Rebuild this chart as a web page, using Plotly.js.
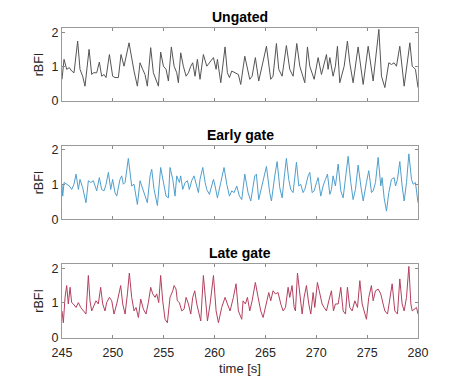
<!DOCTYPE html>
<html>
<head>
<meta charset="utf-8">
<script src="https://cdn.plot.ly/plotly-3.0.1.min.js"></script>
<style>html,body{margin:0;padding:0;background:#fff;}#chart{width:450px;height:383px;}</style>
</head>
<body>
<div id="chart"></div>
<script>
// ---- data ----
const panelTitles = ["Ungated", "Early gate", "Late gate"];
const xTickVals = [245, 250, 255, 260, 265, 270, 275, 280];
const yTickVals = [0, 1, 2];
const xLabel = "time [s]";
const yLabel = "rBFI";

const timeUngated = [245.00,245.20,245.46,245.72,245.95,246.18,246.54,246.77,247.03,247.26,247.66,247.92,248.08,248.41,248.67,248.90,249.13,249.33,249.66,249.98,250.21,250.54,250.80,251.10,251.59,251.85,252.08,252.41,252.67,252.93,253.16,253.39,253.72,253.98,254.48,254.70,254.97,255.23,255.46,255.75,256.02,256.28,256.44,256.67,256.93,257.20,257.43,257.66,257.85,258.08,258.31,258.57,258.90,259.23,259.46,259.89,260.15,260.28,260.61,261.03,261.26,261.46,261.69,262.02,262.34,
  262.57,262.97,263.46,263.69,264.01,264.34,265.10,265.52,265.75,266.08,266.31,266.64,267.06,267.39,267.72,268.08,268.38,268.87,269.13,269.36,269.79,270.18,270.51,271.00,271.16,271.33,271.65,271.88,272.08,272.31,272.74,273.06,273.29,273.62,274.11,274.38,274.61,275.10,275.59,276.15,276.41,276.74,277.13,277.39,277.65,277.88,278.21,278.64,279.20,279.43,279.75,280.00];
const rbfiUngated = [0.63,1.21,0.92,0.97,0.87,0.82,1.74,0.92,0.72,0.43,1.50,0.77,0.82,0.82,1.13,0.72,0.77,0.68,1.35,0.72,0.68,0.68,1.35,1.01,1.69,1.21,0.87,0.43,1.11,0.92,0.77,0.43,1.55,0.82,0.43,1.42,1.01,0.92,0.58,1.57,1.01,0.82,0.53,1.40,1.01,0.72,0.82,1.01,1.11,0.72,1.21,0.63,1.35,1.01,1.11,1.26,0.92,1.21,0.53,1.57,0.82,0.68,0.87,0.82,0.77,
  0.48,1.30,0.63,0.72,1.26,0.58,1.59,0.63,0.72,1.67,0.92,0.72,1.61,0.92,0.72,1.67,1.01,0.53,1.57,1.01,0.63,1.26,0.77,1.35,0.92,1.26,0.72,1.01,1.59,0.53,1.01,1.74,1.11,0.53,1.57,0.92,0.48,1.59,0.58,2.08,0.72,0.39,1.11,1.06,1.11,1.01,1.59,0.43,1.69,1.01,0.92,0.39];

const timeEarly = [245.00,245.07,245.20,245.46,245.72,245.95,246.18,246.38,246.61,246.77,247.03,247.36,247.59,247.82,248.08,248.41,248.67,248.90,249.13,249.33,249.56,249.79,249.98,250.21,250.38,250.70,250.87,251.03,251.20,251.52,251.69,251.85,252.08,252.41,252.67,252.84,253.07,253.39,253.66,253.82,254.05,254.38,254.70,254.97,255.23,255.46,255.62,255.89,256.11,256.28,256.54,256.67,256.87,257.10,257.33,257.52,257.75,257.98,258.18,258.41,258.57,258.84,259.07,259.23,259.49,259.72,259.89,260.05,260.28,260.61,260.93,261.20,261.46,261.69,261.92,262.18,262.44,262.67,
  262.97,263.29,263.56,263.95,264.11,264.34,264.77,265.10,265.42,265.59,265.92,266.15,266.41,266.64,266.90,267.06,267.29,267.49,267.72,268.05,268.28,268.47,268.70,268.87,269.20,269.36,269.59,269.79,270.02,270.18,270.44,270.67,270.90,271.10,271.33,271.49,271.65,271.88,272.15,272.41,272.64,272.87,273.13,273.39,273.62,273.85,274.11,274.38,274.61,274.93,275.16,275.43,275.59,275.82,276.08,276.34,276.47,276.67,276.90,277.13,277.39,277.65,277.79,277.98,278.21,278.44,278.64,278.87,279.10,279.36,279.52,279.75,280.00];
const rbfiEarly = [1.01,0.67,1.06,1.01,0.96,0.86,1.01,1.30,0.86,1.15,0.91,0.48,1.11,1.06,1.11,0.82,1.20,0.86,0.82,1.01,1.35,0.86,1.15,0.77,0.67,1.15,1.25,1.01,1.06,1.75,1.30,0.96,1.01,0.43,1.11,0.96,0.77,0.48,1.25,1.44,0.86,0.40,1.49,1.06,0.67,0.62,1.49,1.15,0.67,1.25,1.06,1.25,0.86,1.06,1.11,0.86,1.11,1.25,1.06,0.77,1.15,1.49,1.06,0.86,0.72,1.01,1.15,0.96,0.62,1.06,1.49,1.01,0.67,0.82,0.77,0.96,0.67,0.57,
  1.30,0.77,0.53,1.25,1.30,0.57,1.15,1.52,0.77,0.53,1.25,1.66,0.91,0.62,1.35,1.75,1.15,0.86,0.77,1.64,0.96,1.01,0.77,0.86,1.25,1.35,0.77,0.82,1.06,1.20,0.67,0.96,1.15,1.30,0.72,0.86,1.25,0.96,1.59,0.82,0.62,1.15,1.81,1.06,0.57,0.86,1.56,0.96,0.53,1.06,1.40,0.77,0.82,1.06,1.78,0.96,1.20,0.62,0.24,0.77,1.15,1.20,0.96,1.15,1.66,0.96,0.53,1.06,1.88,1.15,1.01,1.06,0.48];

const timeLate = [245.00,245.13,245.30,245.46,245.62,245.79,245.95,246.11,246.38,246.61,246.84,247.10,247.36,247.59,247.75,247.92,248.08,248.34,248.57,248.80,249.00,249.23,249.39,249.66,249.89,250.11,250.38,250.64,250.77,250.97,251.20,251.43,251.62,251.85,252.08,252.28,252.51,252.74,253.00,253.26,253.49,253.72,253.92,254.15,254.31,254.51,254.70,254.90,255.13,255.36,255.62,255.89,256.02,256.21,256.34,256.54,256.77,257.00,257.20,257.43,257.66,257.85,258.05,258.25,258.51,258.64,258.90,259.16,259.30,259.56,259.89,260.15,260.38,260.70,261.03,261.26,261.52,261.85,262.11,262.34,262.67,
  262.80,263.03,263.23,263.46,263.69,264.01,264.28,264.54,264.77,265.10,265.33,265.52,265.75,265.98,266.24,266.51,266.74,266.97,267.23,267.39,267.62,267.82,267.95,268.15,268.38,268.61,268.80,269.03,269.26,269.46,269.69,269.85,270.11,270.34,270.57,270.77,271.00,271.23,271.49,271.69,271.88,272.15,272.41,272.64,272.87,273.06,273.29,273.52,273.79,274.05,274.28,274.51,274.70,274.93,275.16,275.42,275.59,275.82,276.08,276.34,276.57,276.74,277.00,277.23,277.46,277.72,277.98,278.21,278.44,278.64,278.87,279.10,279.30,279.43,279.62,279.85,280.00];
const rbfiLate = [0.77,0.43,1.16,1.50,0.97,1.45,1.01,0.97,0.87,1.01,0.87,0.77,0.68,1.79,1.06,0.77,0.87,1.06,0.97,1.45,0.97,0.77,1.01,1.16,1.06,0.68,0.97,1.30,1.50,0.97,0.68,1.26,1.86,1.16,0.77,0.87,0.58,1.11,0.82,0.68,1.01,1.45,1.26,1.16,1.26,1.01,1.79,1.06,0.53,0.43,1.16,1.35,1.50,1.40,1.06,1.01,0.77,0.82,1.16,0.97,0.68,1.16,1.35,0.97,0.58,0.48,1.79,0.87,0.48,0.97,1.79,0.77,0.43,0.87,1.16,0.97,0.77,1.16,1.55,0.77,0.53,
  1.06,0.97,1.16,0.77,1.06,1.59,1.16,0.77,0.58,1.06,1.30,1.06,1.35,1.26,1.30,0.97,0.77,0.87,1.45,1.16,1.50,0.87,0.77,1.86,1.16,0.68,1.16,1.50,0.97,0.68,1.30,0.87,1.59,1.26,0.97,0.87,0.77,1.06,1.35,0.77,0.97,0.97,1.45,0.77,0.68,1.45,0.87,0.77,1.06,0.87,1.64,0.97,0.77,0.53,1.16,1.50,1.06,1.35,1.40,1.26,0.97,0.77,0.68,1.06,1.55,0.77,0.68,1.69,0.97,0.77,1.16,2.05,0.97,0.77,0.82,0.87,0.68];

// ---- styling ----
const FONT = "Liberation Sans, Arial, Helvetica, sans-serif";
const lineColors = ["#555555", "#4f9fcc", "#b3405f"];
const yDomains = [[0.7363, 0.9269], [0.4269, 0.6201], [0.1183, 0.3107]];
const xDomain = [0.1378, 0.9289];

const series = [[timeUngated, rbfiUngated], [timeEarly, rbfiEarly], [timeLate, rbfiLate]];
const traces = series.map((s, i) => ({
  x: s[0], y: s[1], type: "scatter", mode: "lines",
  xaxis: i === 0 ? "x" : "x" + (i + 1),
  yaxis: i === 0 ? "y" : "y" + (i + 1),
  line: {color: lineColors[i], width: 1},
  hoverinfo: "skip", showlegend: false
}));

const layout = {
  width: 450, height: 383,
  margin: {l: 0, r: 0, t: 0, b: 0},
  paper_bgcolor: "#ffffff", plot_bgcolor: "#ffffff",
  font: {family: FONT, size: 12, color: "#262626"},
  showlegend: false,
  annotations: []
};

for (let i = 0; i < 3; i++) {
  const xk = i === 0 ? "xaxis" : "xaxis" + (i + 1);
  const yk = i === 0 ? "yaxis" : "yaxis" + (i + 1);
  const ya = i === 0 ? "y" : "y" + (i + 1);
  const xa = i === 0 ? "x" : "x" + (i + 1);
  layout[xk] = {
    domain: xDomain, anchor: ya, range: [245, 280],
    tickvals: xTickVals, ticktext: xTickVals.map(String),
    showticklabels: i === 2,
    ticks: "inside", ticklen: 3, tickcolor: "#8a8a8a", tickwidth: 1,
    ticklabelstandoff: 3,
    showline: true, linecolor: "#9a9a9a", linewidth: 1, mirror: "ticks",
    showgrid: false, zeroline: false,
    tickfont: {family: FONT, size: 12.5, color: "#262626"},
    fixedrange: true
  };
  if (i === 2) {
    layout[xk].title = {text: xLabel, font: {family: FONT, size: 13, color: "#262626"}, standoff: 5};
  }
  layout[yk] = {
    domain: yDomains[i], anchor: xa, range: [0, 2.12],
    tickvals: yTickVals, ticktext: yTickVals.map(String),
    ticks: "inside", ticklen: 3, tickcolor: "#8a8a8a", tickwidth: 1,
    showline: true, linecolor: "#9a9a9a", linewidth: 1, mirror: "ticks",
    showgrid: false, zeroline: false,
    tickfont: {family: FONT, size: 12.5, color: "#262626"},
    title: {text: yLabel, font: {family: FONT, size: 12.5, color: "#262626"}, standoff: 5},
    fixedrange: true
  };
  layout.annotations.push({
    text: "<b>" + panelTitles[i] + "</b>",
    xref: "paper", yref: "paper",
    x: (xDomain[0] + xDomain[1]) / 2, y: yDomains[i][1],
    xanchor: "center", yanchor: "bottom", yshift: 1,
    showarrow: false,
    font: {family: FONT, size: 14, color: "#000000"}
  });
}

Plotly.newPlot("chart", traces, layout, {staticPlot: true, displayModeBar: false});
</script>
</body>
</html>
